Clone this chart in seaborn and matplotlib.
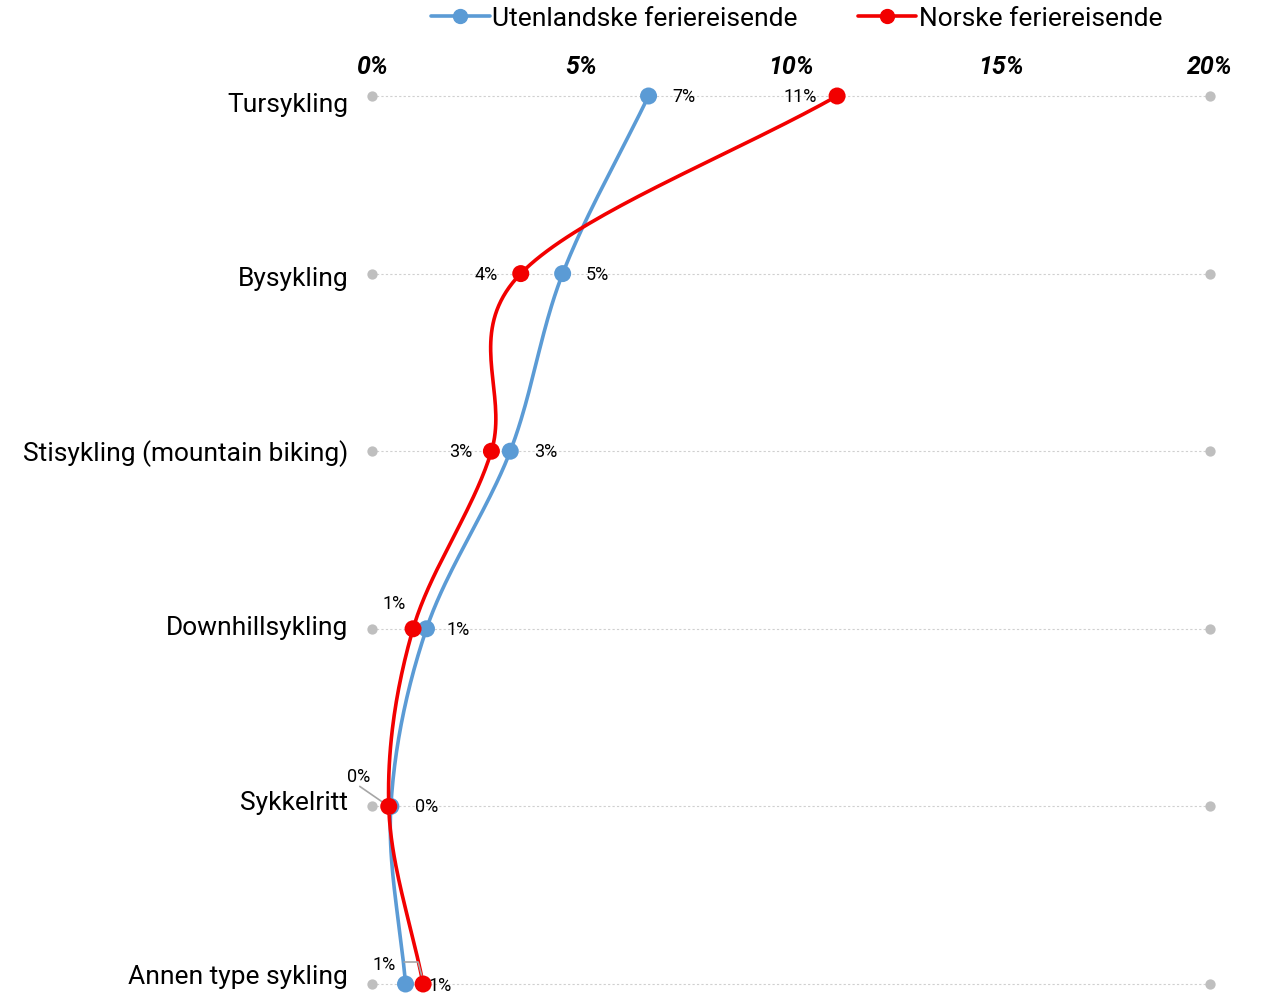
import pandas as pd
import seaborn as sns
import matplotlib.pyplot as plt
import matplotlib.transforms as mtransforms
import numpy as np

categories = ["Tursykling", "Bysykling", "Stisykling (mountain biking)",
              "Downhillsykling", "Sykkelritt", "Annen type sykling"]
utenlandske = [6.6, 4.55, 3.3, 1.3, 0.45, 0.8]
norske = [11.1, 3.55, 2.85, 0.98, 0.4, 1.22]
utenl_labels = ["7%", "5%", "3%", "1%", "0%", "1%"]
norske_labels = ["11%", "4%", "3%", "1%", "0%", "1%"]
xticks = [0, 5, 10, 15, 20]

blue = "#5B9BD5"
red = "#F20000"

sns.set_style("white")
plt.rcParams['font.family'] = ['Roboto', 'DejaVu Sans']
plt.rcParams['text.color'] = "black"
plt.rcParams['xtick.color'] = "black"


def smooth(xs, ys, n=40):
    # catmull-rom through the points, for the curved excel-like line
    p = np.column_stack([xs, ys]).astype(float)
    p = np.vstack([2 * p[0] - p[1], p, 2 * p[-1] - p[-2]])
    out = []
    for i in range(1, len(p) - 2):
        p0, p1, p2, p3 = p[i - 1], p[i], p[i + 1], p[i + 2]
        t = np.linspace(0, 1, n)[:, None]
        seg = 0.5 * (2 * p1 + (-p0 + p2) * t + (2 * p0 - 5 * p1 + 4 * p2 - p3) * t ** 2
                     + (-p0 + 3 * p1 - 3 * p2 + p3) * t ** 3)
        out.append(seg)
    out = np.vstack(out)
    return out[:, 0], out[:, 1]


ypos = np.arange(len(categories))
df = pd.DataFrame({"cat": categories * 2,
                   "y": list(ypos) * 2,
                   "val": utenlandske + norske,
                   "serie": ["Utenlandske feriereisende"] * 6 + ["Norske feriereisende"] * 6})

fig = plt.figure(figsize=(12.61, 9.95), dpi=100)
ax = fig.add_axes([372 / 1261, 1 - 985 / 995, (1210 - 372) / 1261, (985 - 97) / 995])

# dotted row lines with grey end dots
for y in ypos:
    ax.plot([0, 20], [y, y], color="#D0D0D0", lw=0.8, ls=(0, (2, 2)), zorder=1, clip_on=False)
ax.scatter([0] * 6 + [20] * 6, list(ypos) * 2, s=55, color="#BFBFBF", zorder=2, clip_on=False, lw=0)

for vals, col in [(utenlandske, blue), (norske, red)]:
    sx, sy = smooth(vals, ypos)
    ax.plot(sx, sy, color=col, lw=2.6, zorder=3, clip_on=False, solid_capstyle="round")

sns.scatterplot(data=df, x="val", y="y", hue="serie", palette=[blue, red], s=150,
                edgecolor="none", zorder=4, ax=ax, legend=False, clip_on=False)

# data labels (pixel offsets)
offs_u = [(35, 0), (35, 0), (35, 0), (32, 0), (36, 0), (-21, 20)]
offs_n = [(-37, 0), (-35, 0), (-31, 0), (-19, 26), (-30, 30), (17, -1)]
for i in range(6):
    ax.annotate(utenl_labels[i], (utenlandske[i], ypos[i]), xytext=offs_u[i],
                textcoords="offset pixels", ha="center", va="center", fontsize=13)
    ax.annotate(norske_labels[i], (norske[i], ypos[i]), xytext=offs_n[i],
                textcoords="offset pixels", ha="center", va="center", fontsize=13)

# leader lines (pixel offsets from the red point)
for i, pts in [(4, [(-29, 20), (0, 0)]), (5, [(-19, 22), (-5, 22), (0, 3)])]:
    tr = mtransforms.Affine2D() + mtransforms.ScaledTranslation(norske[i], ypos[i], ax.transData)
    px, py = zip(*pts)
    ax.plot(px, py, color="#A6A6A6", lw=1.2, transform=tr, zorder=3.5, clip_on=False)

ax.set_xlim(0, 20)
ax.set_ylim(len(categories) - 1, 0)
ax.set_xlabel("")
ax.set_ylabel("")
ax.xaxis.tick_top()
ax.set_xticks(xticks)
ax.set_xticklabels([f"{t}%" for t in xticks], fontsize=18, fontweight="bold", fontstyle="italic")
ax.tick_params(axis="x", length=0, pad=13, labelcolor="black")
ax.set_yticks([])
for s in ax.spines.values():
    s.set_visible(False)

# category labels, drifting slightly against the rows like in the original
for i, cat in enumerate(categories):
    dy = -8 + 16 * i / (len(categories) - 1)
    tr = ax.get_yaxis_transform() + mtransforms.ScaledTranslation(-24 / 100, dy / 100, fig.dpi_scale_trans)
    ax.text(0, ypos[i], cat, transform=tr, ha="right", va="center", fontsize=19, clip_on=False)

handles = [plt.Line2D([], [], color=blue, lw=2.6, marker="o", ms=10),
           plt.Line2D([], [], color=red, lw=2.6, marker="o", ms=10)]
fig.legend(handles, ["Utenlandske feriereisende", "Norske feriereisende"], loc="center",
           bbox_to_anchor=(797 / 1261, 1 - 19 / 995), ncol=2, frameon=False, fontsize=19,
           handlelength=2.2, handletextpad=0.1, columnspacing=2.3)

fig.savefig("out.png", dpi=100)
